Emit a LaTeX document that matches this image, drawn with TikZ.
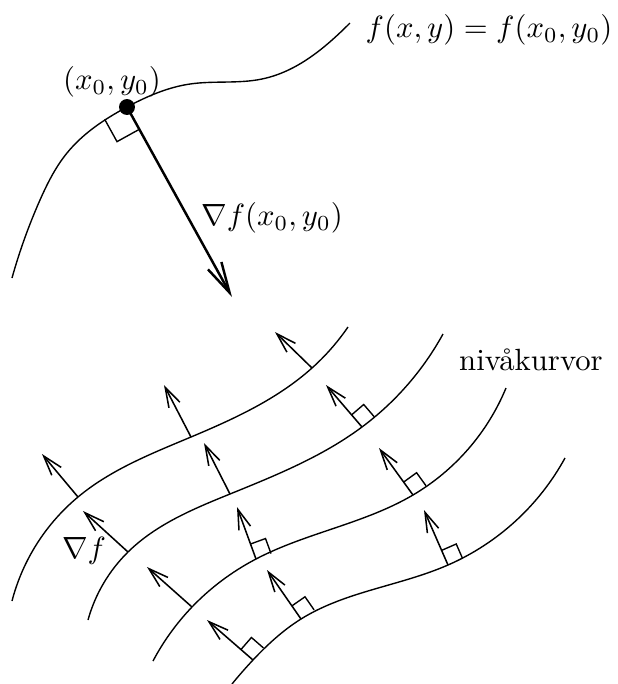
\documentclass[tikz,border=0pt]{standalone}
\usetikzlibrary{arrows.meta,calc,hobby}
\newcommand{\perpmark}[3]{%
  \path ($(#1)!#3!(#2)$) coordinate (pmA) ($(#1)!#3!-90:(#2)$) coordinate (pmB);
  \draw[rmark] (pmA) -- ($(pmA)+(pmB)-(#1)$) -- (pmB);
}
\begin{document}
\begin{tikzpicture}[x=0.3257pt,y=-0.3257pt,
  curve/.style={line width=0.45pt},
  grad/.style={line width=0.5pt,-{Straight Barb[length=6.5pt,width=4pt]}},
  biggrad/.style={line width=0.8pt,-{Straight Barb[length=10pt,width=5pt]}},
  rmark/.style={line width=0.45pt},
  lbl/.style={inner sep=0pt}]
\useasboundingbox (0,0) rectangle (618,684);

% top level curve
\coordinate (P0) at (127,107);
\coordinate (G0) at (232,297);
\draw[curve] (12,278) to[curve through={(40,200) (67,153) (P0) (190,84) (262,79) (350,23)}] (350,23);
\perpmark{P0}{G0}{8.3pt}
\draw[biggrad] (P0) -- (G0);
\fill (P0) circle (2.6pt);
\node[lbl] (Lf) at (489,30) {$f(x,y)=f(x_0,y_0)$};
\node[lbl] (Lp) at (112,82) {$(x_0,y_0)$};
\node[lbl] (Lg) at (272,218) {$\nabla f(x_0,y_0)$};

% arrow bases and tips
\coordinate (A1) at (78,497);  \coordinate (a1) at (42,454);
\coordinate (A2) at (191,437); \coordinate (a2) at (164,385);
\coordinate (A3) at (312,368); \coordinate (a3) at (275,332);
\coordinate (B0) at (128,552); \coordinate (b0) at (83,511);
\coordinate (B1) at (230,494); \coordinate (b1) at (204,443);
\coordinate (B3) at (362,427); \coordinate (b3) at (326,385);
\coordinate (C1) at (192,607); \coordinate (c1) at (147,567);
\coordinate (C2) at (256,559); \coordinate (c2) at (237,507);
\coordinate (C3) at (413,495); \coordinate (c3) at (379,448);
\coordinate (D1) at (253,660); \coordinate (d1) at (207,620);
\coordinate (D2) at (301,619); \coordinate (d2) at (267,570);
\coordinate (D3) at (448,565); \coordinate (d3) at (424,510);

% level curves
\draw[curve] (12,601) to[curve through={(A1) (A2) (A3)}] (348,327);
\draw[curve] (88,620) to[curve through={(B0) (B1) (B3)}] (443,334);
\draw[curve] (153,661) to[curve through={(C1) (C2) (C3)}] (506,388);
\draw[curve] (232,684) to[curve through={(D1) (D2) (D3)}] (565,458);

% gradient arrows
\foreach \b/\t in {A1/a1,A2/a2,A3/a3,B0/b0,B1/b1,B3/b3,C1/c1,C2/c2,C3/c3,D1/d1,D2/d2,D3/d3}
  {\draw[grad] (\b) -- (\t);}
\foreach \b/\t in {B3/b3,C2/c2,C3/c3,D1/d1,D2/d2,D3/d3}
  {\perpmark{\b}{\t}{5.2pt}}

\node[lbl] (Ln) at (531,360) {nivåkurvor};
\node[lbl] (Lgf) at (84,551) {$\nabla f$};
\end{tikzpicture}
\end{document}
